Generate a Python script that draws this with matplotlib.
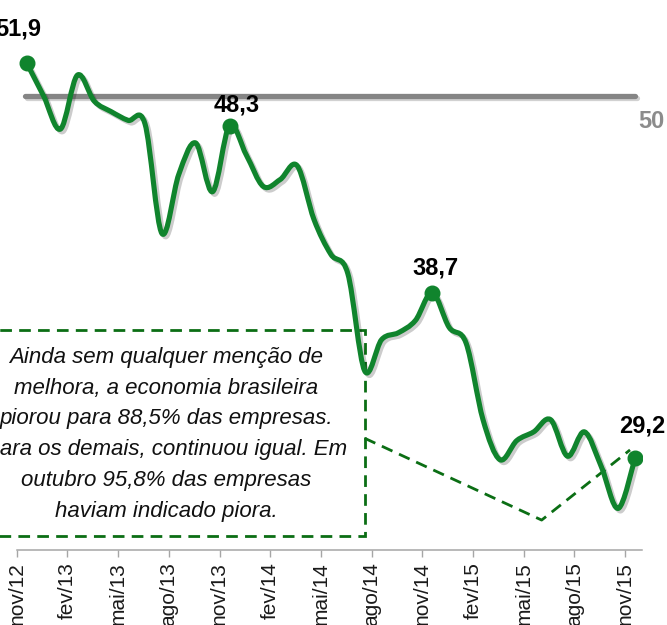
import numpy as np
import matplotlib
matplotlib.use("Agg")
import matplotlib.pyplot as plt
from matplotlib.path import Path
from matplotlib.patches import PathPatch, Rectangle
import matplotlib.patheffects as pe

# ---------------- data ----------------
month_index = np.arange(37)  # nov/12 ... nov/15
values = [51.9, 50.0, 48.1, 51.2, 49.7, 49.1, 48.6, 48.4, 42.1, 45.5,
          47.3, 44.5, 48.3, 46.6, 44.8, 45.2, 46.0, 42.9, 40.9, 39.8,
          34.2, 36.0, 36.4, 37.1, 38.7, 36.7, 35.8, 31.4, 29.1, 30.2,
          30.7, 31.4, 29.3, 30.7, 28.7, 26.3, 29.2]
tick_labels = ['nov/12', 'fev/13', 'mai/13', 'ago/13', 'nov/13', 'fev/14',
               'mai/14', 'ago/14', 'nov/14', 'fev/15', 'mai/15', 'ago/15', 'nov/15']
highlight_idx = [0, 12, 24, 36]
highlight_text = ['51,9', '48,3', '38,7', '29,2']
reference_value = 50
reference_label = '50'
note_text = ("Ainda sem qualquer menção de\n"
             "melhora, a economia brasileira\n"
             "piorou para 88,5% das empresas.\n"
             "Para os demais, continuou igual. Em\n"
             "outubro 95,8% das empresas\n"
             "haviam indicado piora.")

GREEN = '#10842d'
DGREEN = '#0b6e14'
GRAY = '#858585'

fig = plt.figure(figsize=(6.67, 6.25), dpi=100)
ax = fig.add_axes([16.7 / 667, 75 / 625, 625 / 667, 550 / 625])
ax.set_xlim(-0.592, 36.39)
ax.set_ylim(23.91, 55.517)

# reference line at 50
ax.plot([-0.1, month_index[-1]], [reference_value, reference_value], color=GRAY,
        lw=3.8, solid_capstyle='round', zorder=2,
        path_effects=[pe.SimpleLineShadow(offset=(1.5, -1.5), shadow_color='k', alpha=0.18),
                      pe.Normal()])
ax.annotate(reference_label, xy=(month_index[-1], reference_value), xytext=(12, -23),
            textcoords='offset points', ha='center', va='baseline',
            fontsize=17, fontweight='bold', color='#8c8c8c',
            family=['Liberation Sans Narrow', 'Liberation Sans'])

# smoothed line (Excel-like bezier through the points)
x = np.asarray(month_index, dtype=float)
y = np.asarray(values, dtype=float)
n = len(x)
verts = [(x[0], y[0])]
codes = [Path.MOVETO]
for i in range(n - 1):
    im1 = max(i - 1, 0)
    ip2 = min(i + 2, n - 1)
    c1 = (x[i] + (x[i + 1] - x[im1]) / 6, y[i] + (y[i + 1] - y[im1]) / 6)
    c2 = (x[i + 1] - (x[ip2] - x[i]) / 6, y[i + 1] - (y[ip2] - y[i]) / 6)
    verts += [c1, c2, (x[i + 1], y[i + 1])]
    codes += [Path.CURVE4] * 3
patch = PathPatch(Path(verts, codes), fill=False, edgecolor=GREEN, lw=3.7,
                  capstyle='round', joinstyle='round', zorder=4,
                  path_effects=[pe.SimpleLineShadow(offset=(1.8, -1.8), shadow_color='k', alpha=0.2),
                                pe.Normal()])
ax.add_patch(patch)

hx = [x[i] for i in highlight_idx]
hy = [y[i] for i in highlight_idx]
ax.plot(hx, hy, 'o', color=GREEN, markersize=10.5, zorder=5)

label_offsets = [(-6.3, 19.7), (4.9, 10.1), (2.0, 12.7), (5.0, 18.2)]
for xi, yi, t, off in zip(hx, hy, highlight_text, label_offsets):
    ax.annotate(t, xy=(xi, yi), xytext=off, textcoords='offset points',
                ha='center', va='baseline', fontsize=17, fontweight='bold',
                color='black', family='Liberation Sans', zorder=6)

# annotation box and callout
dash = (0, (4.2, 2.6))
box = Rectangle((-3.4, 24.74), 23.4, 11.81, fill=False, edgecolor=DGREEN,
                lw=2.0, linestyle=dash, clip_on=False, zorder=3)
ax.add_patch(box)
ax.plot([20, 30.47, 35.7], [30.33, 25.63, 29.66], color=DGREEN, lw=2.0,
        linestyle=dash, zorder=3, clip_on=False)
ax.text(8.24, 30.55, note_text, ha='center', va='center', multialignment='center',
        fontsize=16, style='italic', family='Liberation Sans', color='#111111',
        linespacing=1.62, zorder=6)

# axes styling
for s in ['left', 'right', 'top']:
    ax.spines[s].set_visible(False)
ax.spines['bottom'].set_color('#a6a6a6')
ax.spines['bottom'].set_linewidth(1.1)
ax.set_yticks([])
ax.set_xticks(np.arange(0, 37, 3) - 0.59)
ax.set_xticklabels(tick_labels, rotation=90, fontsize=15, family='Liberation Sans',
                   color='#1a1a1a')
ax.tick_params(axis='x', length=5, width=1, color='#a6a6a6', pad=4)

fig.savefig('out.png', dpi=100)
